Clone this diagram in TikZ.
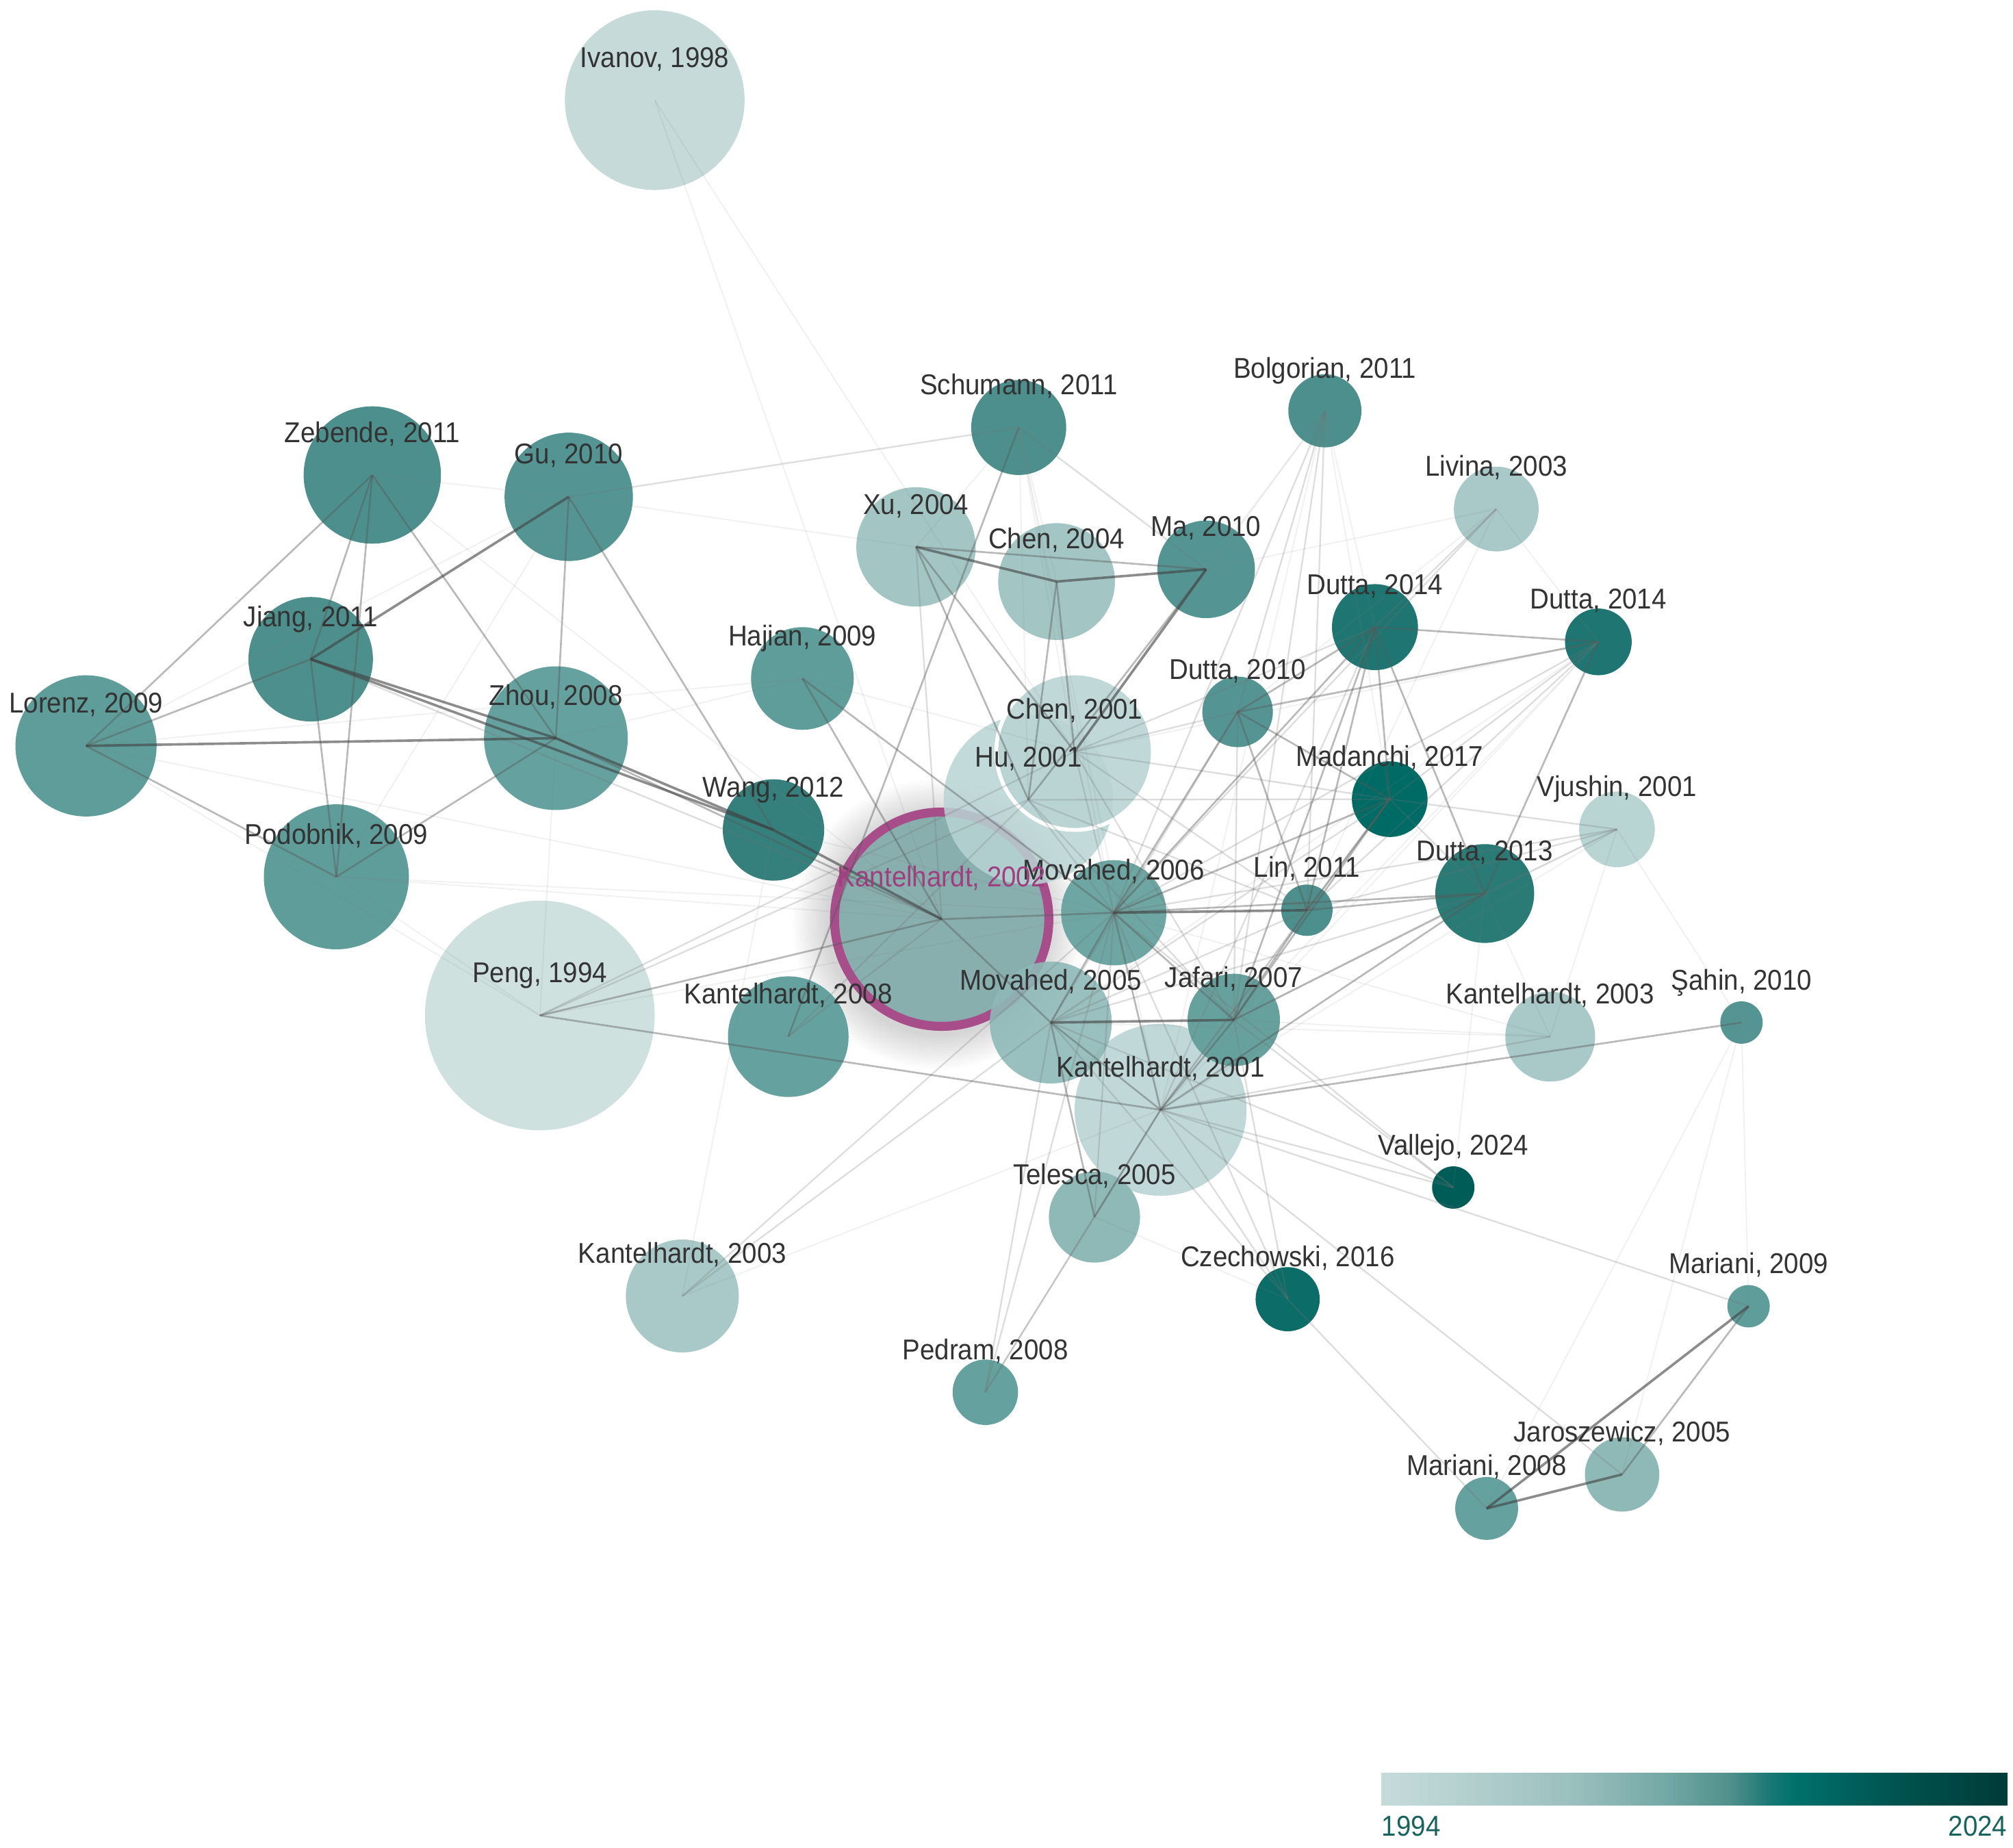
\documentclass[tikz,border=0pt]{standalone}
\usepackage{fontspec}
\setmainfont{Liberation Sans}[FakeStretch=0.92]
\definecolor{c1994}{HTML}{CFE1DF}
\definecolor{c1998}{HTML}{C5DAD9}
\definecolor{c2001}{HTML}{B8D4D3}
\definecolor{c2002}{HTML}{88AEAD}
\definecolor{c2003}{HTML}{A9C8C8}
\definecolor{c2004}{HTML}{A3C6C5}
\definecolor{c2005}{HTML}{8EB9B7}
\definecolor{c2006}{HTML}{6EA6A3}
\definecolor{c2007}{HTML}{66A19E}
\definecolor{c2008}{HTML}{65A19E}
\definecolor{c2009}{HTML}{5F9D9A}
\definecolor{c2010}{HTML}{549593}
\definecolor{c2011}{HTML}{4D8F8C}
\definecolor{c2012}{HTML}{35807C}
\definecolor{c2013}{HTML}{2A7A76}
\definecolor{c2014}{HTML}{1F7571}
\definecolor{c2016}{HTML}{0C6C68}
\definecolor{c2017}{HTML}{006A65}
\definecolor{c2024}{HTML}{005C57}
\definecolor{ringc}{HTML}{A64D8A}
\definecolor{kbtext}{HTML}{9E3F80}
\definecolor{labelc}{HTML}{333333}
\definecolor{cbtext}{HTML}{19635F}
\definecolor{cb0}{HTML}{C6DCDB}
\definecolor{cb1}{HTML}{9CC0BF}
\definecolor{cb2}{HTML}{75A9A6}
\definecolor{cb3}{HTML}{4F8F8B}
\definecolor{cb4}{HTML}{1A7874}
\definecolor{cb5}{HTML}{00716C}
\definecolor{cb6}{HTML}{005753}
\definecolor{cb7}{HTML}{003B38}
\begin{document}
\begin{tikzpicture}[x=0.02cm, y=-0.02cm,
  paper/.style={circle, inner sep=0pt, outer sep=0pt, draw=none, minimum size={#1*0.04cm}},
  lbl/.style={anchor=base, inner sep=0pt, text=labelc, font=\fontsize{12.7}{14}\selectfont},
  cbl/.style={inner sep=0pt, text=cbtext, font=\fontsize{12.7}{14}\selectfont},
  eS/.style={draw=black!75, line width=1.1pt, opacity=0.6},
  eM/.style={draw=black!65, line width=0.8pt, opacity=0.42},
  eL/.style={draw=black!55, line width=0.7pt, opacity=0.24},
  eF/.style={draw=black!50, line width=0.6pt, opacity=0.11}]
\fill[white] (0,0) rectangle (1568,1439);
\useasboundingbox (0,0) rectangle (1568,1439);

% glow of the selected paper
\coordinate (kbc) at (733.5,716);
\foreach \k in {1,...,14}
  \fill[black, opacity=0.012] ([shift={(-3,4)}]kbc) circle ({(85+2*\k)*0.02cm});

% papers
\node[paper=67, fill=c2001, fill opacity=0.88] (ka) at (904,864.5) {};
\node[paper=83.5, fill=c2002, draw=ringc, line width=0.14cm] (kb) at (kbc) {};
\node[paper=89.5, fill=c1994] (peng) at (420.5,791) {};
\node[paper=70, fill=c1998] (ivanov) at (510,78) {};
\node[paper=37, fill=c2011] (schumann) at (793.5,333) {};
\node[paper=28.5, fill=c2011] (bolgorian) at (1032,320) {};
\node[paper=33, fill=c2003] (livina) at (1165.5,396.5) {};
\node[paper=53.5, fill=c2011] (zebende) at (290,370) {};
\node[paper=50, fill=c2010] (gu) at (443,387) {};
\node[paper=46.5, fill=c2004] (xu) at (713.5,426) {};
\node[paper=45.5, fill=c2004] (chenb) at (823,453) {};
\node[paper=38, fill=c2010] (ma) at (939.5,443.5) {};
\node[paper=33.5, fill=c2014] (duttaa) at (1071,488.5) {};
\node[paper=26, fill=c2014] (duttab) at (1245,500) {};
\node[paper=48.5, fill=c2011] (jiang) at (242,513.5) {};
\node[paper=40, fill=c2009] (hajian) at (625,528.5) {};
\node[paper=27.5, fill=c2010] (duttac) at (964,554.5) {};
\node[paper=55, fill=c2009] (lorenz) at (67,581) {};
\node[paper=56, fill=c2008] (zhou) at (433,575) {};
\node[paper=66, fill=c2001, fill opacity=0.85] (hu) at (801,623) {};
\node[paper=61, fill=c2001, fill opacity=0.88, draw=white, line width=0.06cm] (chena) at (837,585.5) {};
\node[paper=29.5, fill=c2017] (madanchi) at (1082.5,622.5) {};
\node[paper=29.5, fill=c2001] (vjushin) at (1259.5,646) {};
\node[paper=39.5, fill=c2012] (wang) at (602.5,646.5) {};
\node[paper=56.5, fill=c2009] (podobnik) at (262,683) {};
\node[paper=41, fill=c2006] (movb) at (867.5,711) {};
\node[paper=20, fill=c2011] (lin) at (1018,709) {};
\node[paper=38.5, fill=c2013] (duttad) at (1156.5,696) {};
\node[paper=47, fill=c2008] (kd) at (614,807.5) {};
\node[paper=47.5, fill=c2005, fill opacity=0.9] (mova) at (818.5,796.5) {};
\node[paper=36, fill=c2007] (jafari) at (961,794.5) {};
\node[paper=35, fill=c2003] (kcr) at (1207.5,807.5) {};
\node[paper=16.5, fill=c2010] (sahin) at (1356.5,796.5) {};
\node[paper=16.5, fill=c2024] (vallejo) at (1132,925) {};
\node[paper=35.5, fill=c2005] (telesca) at (852.5,948) {};
\node[paper=44, fill=c2003] (kcl) at (531.5,1009.5) {};
\node[paper=25, fill=c2016] (czech) at (1003,1012) {};
\node[paper=16.5, fill=c2009] (marb) at (1362,1017.5) {};
\node[paper=25.5, fill=c2008] (pedram) at (767.5,1084.5) {};
\node[paper=29, fill=c2005] (jaro) at (1263.5,1148.5) {};
\node[paper=24.5, fill=c2008] (mara) at (1158,1175) {};

% citation links
\foreach \a/\b in {zebende/gu, gu/xu, gu/podobnik, gu/lorenz, zhou/hajian, lorenz/kb, podobnik/kb,
  podobnik/movb, lorenz/hajian, zebende/kb, zhou/peng, ivanov/kb, ivanov/chena, schumann/chena,
  schumann/hu, schumann/movb, schumann/chenb, schumann/xu, schumann/ka, duttad/kcr, vjushin/kcr,
  vjushin/sahin, sahin/marb, sahin/mara, sahin/jaro, kcr/jafari, kcr/mova, kcr/movb, kcl/wang,
  kcl/ka, livina/ma, livina/duttab, livina/duttac, livina/lin, bolgorian/ka, bolgorian/duttaa,
  bolgorian/madanchi, bolgorian/chena, bolgorian/ma, duttab/chena, duttab/jafari, telesca/czech,
  vallejo/duttad, peng/movb, peng/podobnik, peng/lorenz, hajian/chena, wang/movb, duttab/ka,
  duttab/mova, vjushin/ka, vjushin/jafari}
  \draw[eF] (\a.center) -- (\b.center);
\foreach \a/\b in {gu/schumann, jiang/kb, schumann/ma, xu/kb, movb/vjushin, movb/duttab,
  movb/telesca, movb/czech, movb/vallejo, mova/duttac, mova/madanchi, mova/lin, mova/duttad,
  mova/czech, mova/vallejo, jafari/vallejo, jafari/czech, jafari/duttac, lin/vjushin, lin/duttab,
  lin/ka, madanchi/duttab, madanchi/duttad, madanchi/vjushin, madanchi/ka, duttad/vjushin, kcr/ka,
  ka/marb, ka/jaro, ka/vallejo, ka/czech, ka/pedram, czech/mara, telesca/pedram, mova/pedram,
  movb/pedram, kcl/movb, kcl/mova, peng/chena, peng/hu, livina/movb, bolgorian/duttac,
  bolgorian/movb, bolgorian/lin, bolgorian/jafari, duttaa/chena, duttaa/ka, madanchi/chena,
  madanchi/hu, kd/kb, kd/hu, hu/movb, hu/jafari, hu/lin, chena/movb, chena/jafari, chena/lin,
  chena/duttac, livina/duttaa}
  \draw[eL] (\a.center) -- (\b.center);
\foreach \a/\b in {zebende/lorenz, zebende/jiang, zebende/podobnik, zebende/zhou, gu/zhou, gu/wang,
  lorenz/jiang, lorenz/podobnik, jiang/podobnik, zhou/kb, podobnik/zhou, schumann/kd, xu/ma,
  xu/chena, xu/hu, chenb/chena, chenb/hu, ma/hu, hajian/movb, hajian/kb, kb/movb, kb/mova,
  movb/mova, movb/jafari, movb/ka, movb/duttac, movb/madanchi, movb/duttad, movb/duttaa, mova/ka,
  mova/telesca, jafari/lin, jafari/madanchi, jafari/duttad, jafari/ka, lin/madanchi, lin/duttad,
  lin/duttaa, duttac/madanchi, duttac/duttaa, duttac/lin, duttac/duttab, madanchi/duttaa,
  duttaa/duttab, duttaa/duttad, duttab/duttad, duttaa/jafari, sahin/ka, ka/telesca, ka/peng,
  peng/kb, marb/jaro, duttad/ka}
  \draw[eM] (\a.center) -- (\b.center);
\foreach \a/\b in {gu/jiang, lorenz/zhou, jiang/zhou, jiang/wang, zhou/wang, xu/chenb, chenb/ma,
  ma/chena, wang/kb, movb/lin, mova/jafari, marb/mara, mara/jaro}
  \draw[eS] (\a.center) -- (\b.center);

% labels
\foreach \n/\t in {ivanov/{Ivanov, 1998}, schumann/{Schumann, 2011}, bolgorian/{Bolgorian, 2011},
  livina/{Livina, 2003}, zebende/{Zebende, 2011}, gu/{Gu, 2010}, xu/{Xu, 2004}, chenb/{Chen, 2004},
  ma/{Ma, 2010}, duttaa/{Dutta, 2014}, duttab/{Dutta, 2014}, jiang/{Jiang, 2011},
  hajian/{Hajian, 2009}, duttac/{Dutta, 2010}, lorenz/{Lorenz, 2009}, zhou/{Zhou, 2008},
  chena/{Chen, 2001}, hu/{Hu, 2001}, madanchi/{Madanchi, 2017}, vjushin/{Vjushin, 2001},
  wang/{Wang, 2012}, podobnik/{Podobnik, 2009}, movb/{Movahed, 2006}, lin/{Lin, 2011},
  duttad/{Dutta, 2013}, peng/{Peng, 1994}, kd/{Kantelhardt, 2008}, mova/{Movahed, 2005},
  jafari/{Jafari, 2007}, kcr/{Kantelhardt, 2003}, sahin/{Şahin, 2010}, ka/{Kantelhardt, 2001},
  vallejo/{Vallejo, 2024}, telesca/{Telesca, 2005}, kcl/{Kantelhardt, 2003},
  czech/{Czechowski, 2016}, marb/{Mariani, 2009}, pedram/{Pedram, 2008},
  jaro/{Jaroszewicz, 2005}, mara/{Mariani, 2008}}
  \node[lbl] (\n-l) at ([yshift=0.511cm]\n.center) {\t};
\node[lbl, text=kbtext] (kb-l) at ([yshift=0.511cm]kb.center) {Kantelhardt, 2002};

% year colour bar
\foreach \xa/\xb/\ca/\cb in {0/0.30/cb0/cb1, 0.30/0.45/cb1/cb2, 0.45/0.56/cb2/cb3,
  0.56/0.62/cb3/cb4, 0.62/0.66/cb4/cb5, 0.66/0.80/cb5/cb6, 0.80/1/cb6/cb7}{
  \foreach \i in {0,...,19}{
    \pgfmathsetmacro\p{\i*5+2.5}
    \pgfmathsetmacro\xl{1076+487.7*(\xa+(\xb-\xa)*\i/20)}
    \pgfmathsetmacro\xr{min(1076+487.7*(\xa+(\xb-\xa)*(\i+1)/20)+0.6,1563.7)}
    \fill[\cb!\p!\ca] (\xl,1381) rectangle (\xr,1406.5);
  }
}
\coordinate (barsw) at (1076,1406.5);
\coordinate (barse) at (1563.7,1406.5);
\node[cbl, anchor=base west] (y1994) at ([yshift=-0.47cm]barsw) {1994};
\node[cbl, anchor=base east] (y2024) at ([yshift=-0.47cm]barse) {2024};
\end{tikzpicture}
\end{document}
